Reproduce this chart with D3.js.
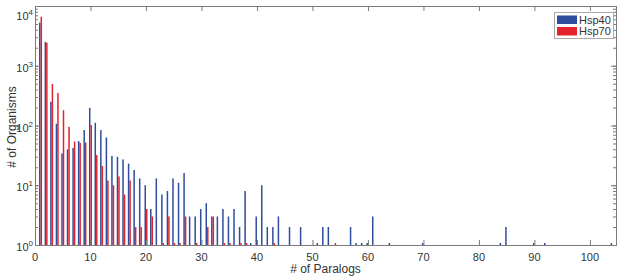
<!DOCTYPE html>
<html>
  <head>
    <style>
      body, html { margin: 0; padding: 0; background: #fff; }
      svg { display: block; font-family: 'Liberation Sans', Arial, sans-serif; }
    </style>
  </head>
  <body>
    <svg id="svg" width="617" height="280"></svg>
    <script src="https://cdn.jsdelivr.net/npm/d3@7"></script>
    <script>
      // paralog counts and number of organisms per count
      const hsp40X = [1, 2, 3, 4, 5, 6, 7, 8, 9, 10, 11, 12, 13, 14, 15, 16, 17, 18, 19, 20,
        21, 22, 23, 24, 25, 26, 27, 28, 29, 30, 31, 32, 33, 34, 35, 36, 37, 38, 39, 40,
        41, 42, 43, 44, 46, 48, 51, 52, 53, 57, 58, 59, 60, 61, 64, 70, 84, 85, 90, 92, 104];
      const hsp40N = [5300, 2500, 250, 107, 34, 40, 42, 55, 84, 198, 111, 84, 63, 31, 30, 27, 23, 18, 13, 10,
        4, 13, 7, 8, 13, 11, 16, 3, 3, 4, 5, 3, 3, 4, 3, 4, 2, 8, 1, 3,
        10, 2, 2, 3, 2, 2, 1, 2, 2, 2, 1, 1, 1, 3, 1, 1, 1, 2, 1, 1, 1];
      const hsp70X = [1, 2, 3, 4, 5, 6, 7, 8, 9, 10, 11, 12, 13, 14, 15, 16, 17, 18, 19, 20,
        21, 23, 24, 25, 26, 27, 29, 31, 32, 34, 35, 37, 38, 43, 54];
      const hsp70N = [6600, 2430, 495, 350, 180, 95, 54, 51, 52, 102, 32, 21, 12, 10, 14, 7, 12, 2, 2, 4,
        3, 1, 3, 1, 1, 3, 1, 2, 3, 1, 1, 1, 1, 1, 1];
      const xTicks = [0, 10, 20, 30, 40, 50, 60, 70, 80, 90, 100];
      const yTicks = [1, 10, 100, 1000, 10000];
      const seriesNames = ['Hsp40', 'Hsp70'];
      const colors = ['#2e4d9c', '#e3232b'];

      const mLeft = 35, mRight = 616, mTop = 6, mBottom = 245;
      const x = d3.scaleLinear().domain([0, 104.7]).range([mLeft, mRight]);
      const y = d3.scaleLog().domain([1, 10000]).range([mBottom, mTop]);
      const svg = d3.select('#svg');
      const axisColor = '#7a7a7a';
      const textColor = '#333';

      // bars
      const bw = 0.27;
      const series = [
        hsp40X.map((v, i) => ({ x: v, n: hsp40N[i] })),
        hsp70X.map((v, i) => ({ x: v, n: hsp70N[i] }))
      ];
      series.forEach((data, s) => {
        svg.append('g').selectAll('rect').data(data).join('rect')
          .attr('x', (d) => x(d.x + (s === 0 ? -bw : 0)))
          .attr('width', x(bw) - x(0))
          .attr('y', (d) => Math.min(y(d.n), mBottom - 2))
          .attr('height', (d) => Math.max(mBottom - y(d.n), 2))
          .attr('fill', colors[s]);
      });

      // minor + major y tick positions
      const yAll = [];
      for (let e = 0; e < 4; e++) for (let k = 1; k < 10; k++) yAll.push(k * Math.pow(10, e));
      yAll.push(10000);

      const styleAxis = (g) => {
        g.select('.domain').remove();
        g.selectAll('line').attr('stroke', axisColor);
        g.selectAll('text').remove();
      };
      svg.append('g').attr('transform', `translate(0,${mBottom})`)
        .call(d3.axisBottom(x).tickValues(xTicks).tickSize(-5)).call(styleAxis);
      svg.append('g').attr('transform', `translate(0,${mTop})`)
        .call(d3.axisTop(x).tickValues(xTicks).tickSize(-5)).call(styleAxis);
      svg.append('g').attr('transform', `translate(${mLeft},0)`)
        .call(d3.axisLeft(y).tickValues(yAll).tickSize(-3)).call(styleAxis);
      svg.append('g').attr('transform', `translate(${mRight},0)`)
        .call(d3.axisRight(y).tickValues(yAll).tickSize(-3)).call(styleAxis);
      svg.append('g').selectAll('line').data(yTicks).join('line')
        .attr('x1', mLeft).attr('x2', mLeft + 5)
        .attr('y1', (d) => y(d) + 0.5).attr('y2', (d) => y(d) + 0.5).attr('stroke', axisColor);
      svg.append('g').selectAll('line').data(yTicks).join('line')
        .attr('x1', mRight).attr('x2', mRight - 5)
        .attr('y1', (d) => y(d) + 0.5).attr('y2', (d) => y(d) + 0.5).attr('stroke', axisColor);

      // frame
      svg.append('rect').attr('x', mLeft + 0.5).attr('y', mTop + 0.5)
        .attr('width', mRight - mLeft).attr('height', mBottom - mTop)
        .attr('fill', 'none').attr('stroke', axisColor);

      // x tick labels
      svg.append('g').selectAll('text').data(xTicks).join('text')
        .attr('x', (d) => x(d)).attr('y', 261)
        .attr('text-anchor', 'middle').attr('font-size', 11).attr('fill', textColor)
        .text((d) => d);

      // y tick labels with superscript exponent
      const yl = svg.append('g').selectAll('text').data(yTicks).join('text')
        .attr('x', 33).attr('y', (d) => Math.max(y(d) + 6, 20))
        .attr('text-anchor', 'end').attr('font-size', 11).attr('fill', textColor);
      yl.append('tspan').text('10');
      yl.append('tspan').attr('font-size', 8).attr('dy', -5).text((d) => Math.round(Math.log10(d)));

      // axis titles
      svg.append('text').attr('x', (mLeft + mRight) / 2).attr('y', 273)
        .attr('text-anchor', 'middle').attr('font-size', 12).attr('fill', textColor)
        .text('# of Paralogs');
      svg.append('text').attr('transform', `translate(16,127) rotate(-90)`)
        .attr('text-anchor', 'middle').attr('font-size', 12).attr('fill', textColor)
        .text('# of Organisms');

      // legend
      const lg = svg.append('g').attr('transform', 'translate(554,12)');
      lg.append('rect').attr('x', 0.5).attr('y', 0.5).attr('width', 59).attr('height', 26)
        .attr('fill', '#fff').attr('stroke', '#aaa');
      seriesNames.forEach((name, i) => {
        lg.append('rect').attr('x', 3).attr('y', 3.5 + i * 11.5).attr('width', 20).attr('height', 8.5)
          .attr('fill', colors[i]);
        lg.append('text').attr('x', 25).attr('y', 11.5 + i * 11.5).attr('font-size', 11)
          .attr('fill', textColor).text(name);
      });
    </script>
  </body>
</html>
